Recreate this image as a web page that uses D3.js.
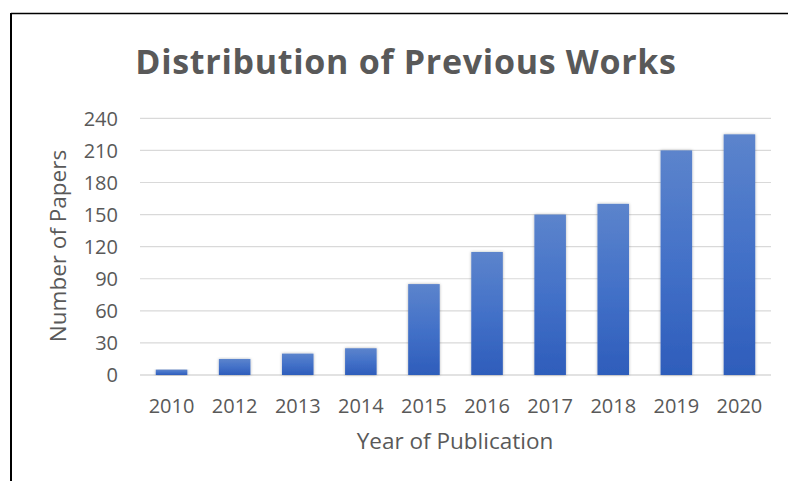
<!DOCTYPE html>
<html lang="en">
<head>
    <meta charset="UTF-8">
    <title>Distribution of Previous Works</title>
    <script type="text/javascript" src="https://d3js.org/d3.v7.min.js"></script>
    <style>
        body { margin: 0; background: #fff; }
        text { font-family: "Open Sans", Lato, sans-serif; fill: #595959; }
    </style>
</head>
<body>

    <svg id="svg" width="788" height="481"></svg>

    <script>
        const years = ['2010', '2012', '2013', '2014', '2015', '2016', '2017', '2018', '2019', '2020'];
        const papers = [5, 15, 20, 25, 85, 115, 150, 160, 210, 225];
        const yTicks = [0, 30, 60, 90, 120, 150, 180, 210, 240];

        let svg = d3.select('svg');

        // gradient for bars
        let defs = svg.append('defs');
        let grad = defs.append('linearGradient')
            .attr('id', 'barGrad')
            .attr('x1', 0).attr('y1', 0).attr('x2', 0).attr('y2', 1);
        grad.append('stop').attr('offset', '0%').attr('stop-color', '#5c84cc');
        grad.append('stop').attr('offset', '50%').attr('stop-color', '#4371c8');
        grad.append('stop').attr('offset', '100%').attr('stop-color', '#2e5dbb');

        let shadow = defs.append('filter').attr('id', 'shadow')
            .attr('x', '-30%').attr('y', '-10%').attr('width', '160%').attr('height', '120%');
        shadow.append('feDropShadow')
            .attr('dx', 0).attr('dy', 0).attr('stdDeviation', 1.5)
            .attr('flood-color', '#000').attr('flood-opacity', 0.3);

        // frame
        svg.append('line')
            .attr('x1', 11).attr('y1', 13.5).attr('x2', 788).attr('y2', 13.5)
            .attr('stroke', '#000').attr('stroke-width', 1.5);
        svg.append('line')
            .attr('x1', 11).attr('y1', 13).attr('x2', 11).attr('y2', 481)
            .attr('stroke', '#000').attr('stroke-width', 2);

        const plotLeft = 140, plotRight = 771, plotTop = 118.3, plotBottom = 375;

        let x = d3.scaleBand()
            .domain(years)
            .range([plotLeft, plotRight])
            .paddingInner(0.5)
            .paddingOuter(0.25);

        let y = d3.scaleLinear()
            .domain([0, 240])
            .range([plotBottom, plotTop]);

        // gridlines
        svg.append('g')
            .selectAll('line')
            .data(yTicks)
            .enter()
            .append('line')
            .attr('x1', plotLeft)
            .attr('x2', plotRight)
            .attr('y1', d => y(d))
            .attr('y2', d => y(d))
            .attr('stroke', '#d9d9d9')
            .attr('stroke-width', d => d === 0 ? 1.5 : 1.2);

        // y labels
        svg.append('g')
            .selectAll('text')
            .data(yTicks)
            .enter()
            .append('text')
            .attr('x', 118)
            .attr('y', d => y(d))
            .attr('dy', '0.36em')
            .attr('text-anchor', 'end')
            .style('font-size', '20px')
            .text(d => d);

        // bars
        svg.append('g')
            .selectAll('rect')
            .data(papers)
            .enter()
            .append('rect')
            .attr('x', (d, i) => x(years[i]))
            .attr('y', d => y(d))
            .attr('width', x.bandwidth())
            .attr('height', d => y(0) - y(d))
            .attr('fill', 'url(#barGrad)')
            .attr('filter', 'url(#shadow)');

        // x labels
        svg.append('g')
            .selectAll('text')
            .data(years)
            .enter()
            .append('text')
            .attr('x', d => x(d) + x.bandwidth() / 2)
            .attr('y', 413)
            .attr('text-anchor', 'middle')
            .style('font-size', '20px')
            .text(d => d);

        // titles
        svg.append('text')
            .attr('x', 406)
            .attr('y', 74)
            .attr('text-anchor', 'middle')
            .style('font-size', '34px')
            .style('font-weight', 'bold')
            .style('letter-spacing', '0.7px')
            .text('Distribution of Previous Works');

        svg.append('text')
            .attr('x', 455)
            .attr('y', 449)
            .attr('text-anchor', 'middle')
            .style('font-size', '22.5px')
            .text('Year of Publication');

        svg.append('text')
            .attr('transform', 'translate(66,246) rotate(-90)')
            .attr('text-anchor', 'middle')
            .style('font-size', '22.5px')
            .text('Number of Papers');
    </script>

</body>
</html>
